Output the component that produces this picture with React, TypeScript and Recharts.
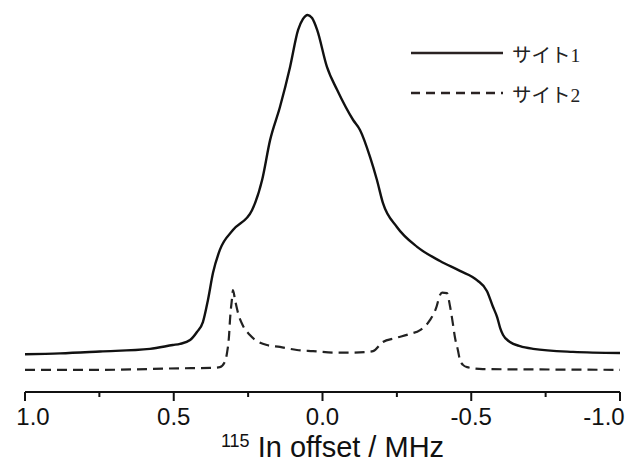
import React from "react"
import { LineChart, Line, XAxis, YAxis, Legend, Label } from "recharts"

// 115In offset (MHz) and intensity (arb. units)
const site1Offset = [
  1.0, 0.882, 0.748, 0.58, 0.503, 0.479, 0.445, 0.422, 0.402, 0.385, 0.368,
  0.345, 0.301, 0.237, 0.203, 0.176, 0.143, 0.109, 0.082, 0.066, 0.05, 0.035, 0.018,
  -0.015, -0.049, -0.103, -0.126, -0.16, -0.183, -0.203, -0.25, -0.318, -0.395, -0.462,
  -0.519, -0.553, -0.573, -0.587, -0.597, -0.607, -0.63, -0.664, -0.708, -0.842, -1.0,
]
const site1Intensity = [
  9.9, 10.1, 10.6, 11.3, 12.3, 12.6, 13.6, 15.7, 18.3, 24.1, 31.2,
  37.2, 42.4, 47.6, 55.5, 66.0, 74.6, 85.1, 94.8, 97.6, 98.7, 97.9, 94.8,
  85.1, 79.1, 71.2, 68.6, 61.5, 55.5, 49.5, 43.2, 38.0, 34.3, 31.7,
  29.3, 26.4, 22.3, 19.6, 16.8, 14.9, 13.1, 12.0, 11.3, 10.5, 10.2,
]

const site2Offset = [
  1.0, 0.748, 0.479, 0.378, 0.345, 0.328, 0.321, 0.314, 0.311, 0.304, 0.301, 0.294,
  0.284, 0.267, 0.244, 0.187, 0.143, 0.086, 0.032, -0.049, -0.082, -0.15, -0.17,
  -0.203, -0.244, -0.294, -0.328, -0.361, -0.382, -0.395, -0.402, -0.418, -0.429,
  -0.439, -0.445, -0.455, -0.462, -0.472, -0.486, -0.539, -0.731, -1.0,
]
const site2Intensity = [
  5.8, 5.8, 6.2, 6.3, 6.5, 7.9, 10.2, 14.9, 18.8, 24.6, 26.7, 24.1,
  20.7, 17.3, 14.9, 12.3, 11.8, 11.0, 10.7, 10.3, 10.3, 10.5, 10.7,
  13.1, 14.1, 15.2, 16.2, 18.8, 22.0, 25.4, 26.0, 25.9, 22.3,
  17.5, 14.4, 11.0, 8.4, 7.1, 6.5, 6.0, 5.9, 5.8,
]

const offsetTicks = [1.0, 0.75, 0.5, 0.25, 0, -0.25, -0.5, -0.75, -1.0]
const siteNames = ["サイト1", "サイト2"]

const site1Data = site1Offset.map((offset, i) => ({ offset, intensity: site1Intensity[i] }))
const site2Data = site2Offset.map((offset, i) => ({ offset, intensity: site2Intensity[i] }))

const INK = "#111"
const SANS = "'Liberation Sans', Arial, sans-serif"
const DASH = "10 6"

function OffsetTick(props: any) {
  const { x, y, payload } = props
  const v = payload.value
  const major = Math.abs(v * 2 - Math.round(v * 2)) < 1e-6
  // end labels sit a little inside the axis in the original
  const dx = v === 1 ? 8 : v === -1 ? -16 : 0
  return (
    <g>
      <line x1={x} x2={x} y1={y} y2={y + (major ? 9 : 5)} stroke={INK} strokeWidth={2} />
      {major && (
        <text x={x + dx} y={y + 33} textAnchor="middle" fontSize={24} fontFamily={SANS} fill={INK}>
          {v.toFixed(1)}
        </text>
      )}
    </g>
  )
}

function AxisTitle(props: any) {
  const vb = props.viewBox || { x: 25, y: 392, width: 595 }
  const cx = vb.x + vb.width / 2 + 10
  return (
    <text x={cx} y={vb.y + 65} textAnchor="middle" fontFamily={SANS} fill={INK}>
      <tspan fontSize={18} dy={-10}>115</tspan>
      <tspan fontSize={29} dy={10}> In offset / MHz</tspan>
    </text>
  )
}

function SiteLegend() {
  return (
    <div>
      {siteNames.map((name, i) => (
        <div key={name} style={{ display: "flex", alignItems: "center", height: 40 }}>
          <svg width={92} height={4} style={{ display: "block" }}>
            <line
              x1={0}
              x2={92}
              y1={2}
              y2={2}
              stroke="#2a2222"
              strokeWidth={2.5}
              strokeDasharray={i === 1 ? "9 6" : undefined}
            />
          </svg>
          <span
            style={{
              marginLeft: 9,
              fontSize: 19.5,
              color: "#222",
              fontFamily: "'Liberation Serif', 'Noto Sans CJK JP', serif",
            }}
          >
            {name}
          </span>
        </div>
      ))}
    </div>
  )
}

export default function App() {
  return (
    <div style={{ position: "absolute", left: 0, top: 0, background: "#fff" }}>
      <LineChart width={637} height={464} margin={{ top: 10, right: 17, bottom: 12, left: 25 }}>
        <XAxis
          dataKey="offset"
          type="number"
          domain={[-1, 1]}
          reversed
          ticks={offsetTicks}
          interval={0}
          height={60}
          tickSize={0}
          tickMargin={0}
          tickLine={false}
          axisLine={{ stroke: INK, strokeWidth: 2 }}
          tick={<OffsetTick />}
        >
          <Label content={<AxisTitle />} />
        </XAxis>
        <YAxis hide type="number" domain={[0, 100]} />
        <Legend
          layout="vertical"
          align="center"
          verticalAlign="middle"
          content={<SiteLegend />}
          wrapperStyle={{ position: "absolute", left: 411, top: 33, width: 200 }}
        />
        <Line
          data={site1Data}
          dataKey="intensity"
          name={siteNames[0]}
          type="monotone"
          stroke={INK}
          strokeWidth={2.4}
          dot={false}
          isAnimationActive={false}
        />
        <Line
          data={site2Data}
          dataKey="intensity"
          name={siteNames[1]}
          type="monotone"
          stroke="#222"
          strokeWidth={2.2}
          strokeDasharray={DASH}
          dot={false}
          isAnimationActive={false}
        />
      </LineChart>
    </div>
  )
}
